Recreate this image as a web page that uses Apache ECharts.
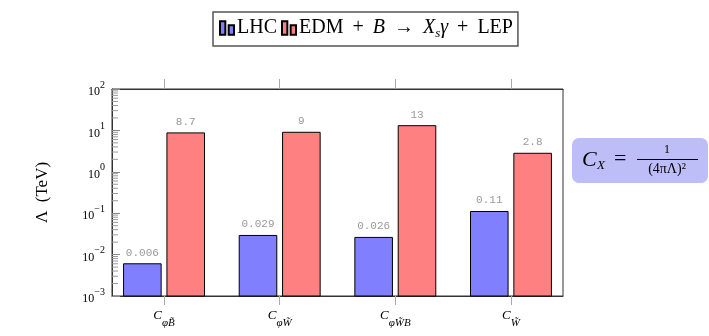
<!DOCTYPE html>
<html>
<head>
<meta charset="utf-8">
<script src="https://cdn.jsdelivr.net/npm/echarts@6/dist/echarts.min.js"></script>
<style>
  html, body { margin: 0; padding: 0; background: #fff; }
  #chart { width: 709px; height: 336px; }
</style>
</head>
<body>
<div id="chart"></div>
<script>
// operator subscripts (C_{...})
const categories = ['φB̃', 'φW̃', 'φW̃B', 'W̃']
const lhcValues = [0.006, 0.029, 0.026, 0.11]
const edmValues = [8.7, 9, 13, 2.8]
const lhcLabels = ['0.006', '0.029', '0.026', '0.11']
const edmLabels = ['8.7', '9', '13', '2.8']
const yMin = 0.001
const yMax = 100
const minorTickValues = []
for (let e = -3; e < 2; e++) {
  for (let m = 2; m <= 9; m++) minorTickValues.push(m * Math.pow(10, e))
}
const catIndex = categories.map((c, i) => i)

const serif = "'Liberation Serif', 'DejaVu Serif', serif"
const legendIcon = 'path://M0,0 h8 v20 h-8 z M13,6 h8 v14 h-8 z'

const chart = echarts.init(document.getElementById('chart'))

const expLabel = (v) => {
  const e = Math.round(Math.log10(v))
  return '{b|10}{s|' + (e < 0 ? '−' + -e : e) + '}'
}

// bars drawn from the axis bottom (log axis bars would otherwise start at 1)
const barSeries = (name, values, labels, color, offset) => ({
  name,
  type: 'custom',
  itemStyle: { color, borderColor: '#000', borderWidth: 1 },
  data: values.map((v, i) => [i, v]),
  renderItem: (params, api) => {
    const i = api.value(0)
    const top = api.coord([i, api.value(1)])
    const base = api.coord([i, yMin])
    const unit = api.coord([i + 1, yMin])[0] - base[0]
    const w = unit * 0.325
    const x = top[0] + offset * unit - (offset < 0 ? w : 0)
    return {
      type: 'rect',
      shape: { x, y: top[1], width: w, height: base[1] - top[1] },
      style: { fill: color, stroke: '#000', lineWidth: 1 },
      textContent: {
        style: {
          text: labels[params.dataIndex],
          fontFamily: "'Liberation Mono', 'DejaVu Sans Mono', monospace",
          fontSize: 11,
          fill: '#999',
        },
      },
      textConfig: { position: 'top', distance: 5 },
    }
  },
})

const option = {
  backgroundColor: '#fff',
  animation: false,
  legend: {
    left: 213,
    top: 12,
    data: ['LHC', 'EDM'],
    icon: legendIcon,
    itemWidth: 14,
    itemHeight: 15,
    itemGap: 4,
    padding: [6, 5, 6, 6],
    borderColor: '#555',
    borderWidth: 1.5,
    borderRadius: 0,
    selectedMode: false,
    formatter: (name) =>
      name === 'LHC'
        ? 'LHC'
        : 'EDM{op|+}{i|B}{op|→}{i|X}{sub|s}{i|γ}{op|+}LEP',
    textStyle: {
      fontFamily: serif,
      fontSize: 20,
      color: '#000',
      padding: [0, 0, 0, -2],
      rich: {
        i: { fontFamily: serif, fontSize: 20, fontStyle: 'italic', color: '#000' },
        op: { fontFamily: serif, fontSize: 20, color: '#000', padding: [0, 9] },
        sub: {
          fontFamily: serif,
          fontSize: 13,
          fontStyle: 'italic',
          color: '#000',
          verticalAlign: 'bottom',
          lineHeight: 24,
        },
      },
    },
  },
  grid: {
    left: 112,
    right: 146,
    top: 89,
    bottom: 40,
    show: true,
    borderColor: '#333',
    borderWidth: 1,
  },
  xAxis: [
    {
      type: 'value',
      min: -0.45,
      max: 3.45,
      splitLine: { show: false },
      axisLine: { onZero: false, lineStyle: { color: '#333' } },
      axisTick: { customValues: catIndex, length: 9, lineStyle: { color: '#aaa' } },
      axisLabel: {
        customValues: catIndex,
        margin: 13,
        formatter: (v) => '{c|C}{s|' + categories[v] + '}',
        rich: {
          c: {
            fontFamily: serif,
            fontStyle: 'italic',
            fontSize: 13,
            color: '#000',
            verticalAlign: 'top',
            lineHeight: 20,
          },
          s: {
            fontFamily: serif,
            fontStyle: 'italic',
            fontSize: 11,
            color: '#000',
            verticalAlign: 'bottom',
            lineHeight: 20,
          },
        },
      },
    },
    {
      type: 'value',
      position: 'top',
      min: -0.45,
      max: 3.45,
      splitLine: { show: false },
      axisLine: { onZero: false, lineStyle: { color: '#333' } },
      axisTick: { customValues: catIndex, length: 10, lineStyle: { color: '#aaa' } },
      axisLabel: { show: false },
    },
  ],
  yAxis: {
    type: 'log',
    logBase: 10,
    min: yMin,
    max: yMax,
    interval: 1,
    name: 'Λ  (TeV)',
    nameLocation: 'middle',
    nameRotate: 90,
    nameGap: 61,
    nameTextStyle: { fontFamily: serif, fontSize: 17, color: '#000' },
    axisLine: { show: true, onZero: false, lineStyle: { color: '#333' } },
    axisTick: { show: true, inside: true, length: 8, lineStyle: { color: '#888' } },
    splitLine: { show: false },
    axisLabel: {
      margin: 7,
      formatter: expLabel,
      rich: {
        b: { fontFamily: serif, fontSize: 12, color: '#000', verticalAlign: 'bottom', lineHeight: 18 },
        s: { fontFamily: serif, fontSize: 10, color: '#000', verticalAlign: 'top', lineHeight: 18 },
      },
    },
  },
  series: [
    barSeries('LHC', lhcValues, lhcLabels, '#8080ff', -0.025),
    barSeries('EDM', edmValues, edmLabels, '#ff8080', 0.025),
    {
      // log minor ticks on the left axis
      type: 'custom',
      silent: true,
      data: minorTickValues.map((v) => [0, v]),
      renderItem: (params, api) => {
        const y = api.coord([0, api.value(1)])[1]
        const x0 = params.coordSys.x
        return {
          type: 'line',
          shape: { x1: x0, y1: y, x2: x0 + 6, y2: y },
          style: { stroke: '#999', lineWidth: 1 },
        }
      },
    },
  ],
  graphic: [
    {
      type: 'group',
      left: 572,
      top: 138,
      children: [
        {
          type: 'rect',
          shape: { x: 0, y: 0, width: 136, height: 45, r: 7 },
          style: { fill: '#bdbdf8' },
        },
        {
          type: 'text',
          x: 10,
          y: 11,
          style: { text: 'C', font: 'italic 22px ' + serif, fill: '#000' },
        },
        {
          type: 'text',
          x: 25,
          y: 21,
          style: { text: 'X', font: 'italic 13px ' + serif, fill: '#000' },
        },
        {
          type: 'text',
          x: 42,
          y: 10,
          style: { text: '=', font: '22px ' + serif, fill: '#000' },
        },
        {
          type: 'text',
          x: 95,
          y: 6,
          style: { text: '1', font: '12px ' + serif, fill: '#000', align: 'center' },
        },
        {
          type: 'line',
          shape: { x1: 65, y1: 21.5, x2: 126, y2: 21.5 },
          style: { stroke: '#000', lineWidth: 1 },
        },
        {
          type: 'text',
          x: 95,
          y: 24,
          style: { text: '(4πΛ)²', font: '14px ' + serif, fill: '#000', align: 'center' },
        },
      ],
    },
  ],
}

chart.setOption(option)

window.addEventListener('resize', () => {
  chart.resize()
})
</script>
</body>
</html>
